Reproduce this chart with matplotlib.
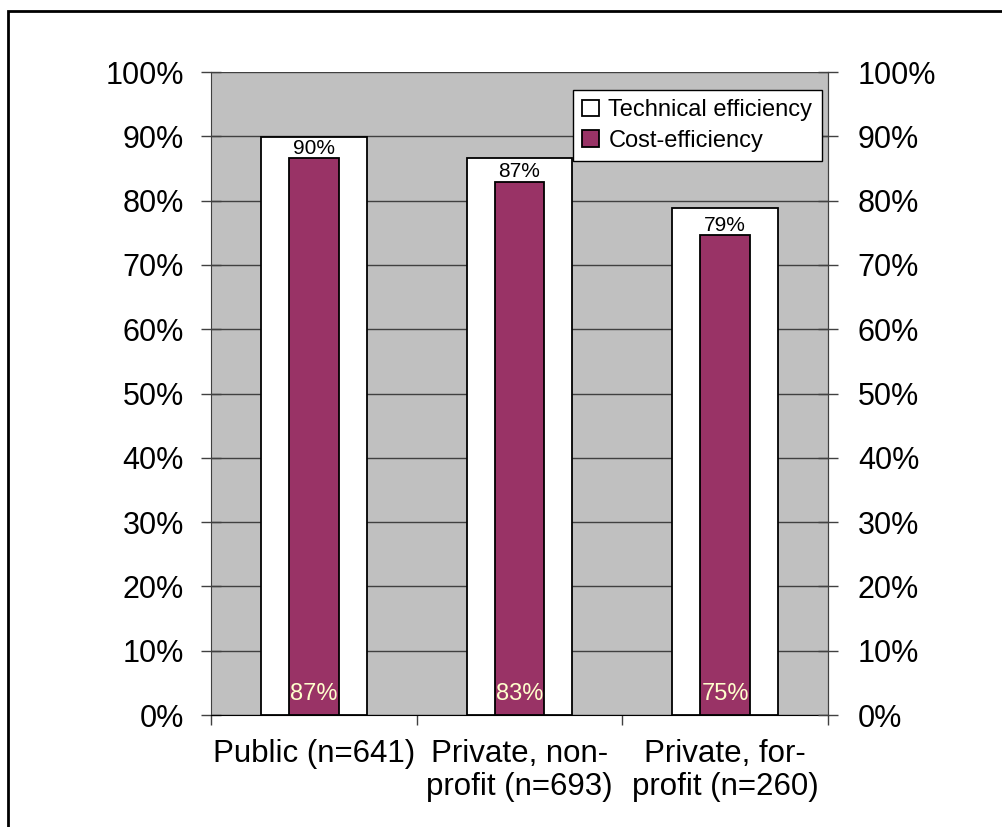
import matplotlib
matplotlib.use("Agg")
import matplotlib.pyplot as plt
import numpy as np
from matplotlib.patches import Rectangle

categories = ["Public (n=641)", "Private, non-\nprofit (n=693)", "Private, for-\nprofit (n=260)"]
technical = [0.899, 0.866, 0.789]
cost = [0.866, 0.829, 0.746]
series_names = ["Technical efficiency", "Cost-efficiency"]

plt.rcParams['font.family'] = ['Liberation Sans', 'DejaVu Sans']

fig = plt.figure(figsize=(10.03, 8.27), dpi=100)
ax = fig.add_axes([0.2104, 0.1354, 0.6151, 0.7775])
ax.set_facecolor('#C0C0C0')

x = np.arange(len(categories))
b1 = ax.bar(x, technical, width=0.515, color='white', edgecolor='black', linewidth=1.3,
            label=series_names[0], zorder=3)
b2 = ax.bar(x, cost, width=0.24, color='#993366', edgecolor='black', linewidth=1.3,
            label=series_names[1], zorder=4)

for xi, t, c in zip(x, technical, cost):
    ax.text(xi, c + 0.001, f"{round(t*100):.0f}%", ha='center', va='bottom', fontsize=15,
            color='black', zorder=6)
    ax.text(xi, 0.016, f"{round(c*100):.0f}%", ha='center', va='bottom', fontsize=17,
            color='#FFFFCC', zorder=6)

ax.set_xlim(-0.5, 2.5)
ax.set_ylim(0, 1.0)
yt = np.arange(0, 1.01, 0.1)
ax.set_yticks(yt)
ax.set_yticklabels([f"{int(round(v*100))}%" for v in yt], fontsize=22)
ax.yaxis.grid(True, color='#404040', linewidth=1.0, zorder=1)
ax.set_axisbelow(True)
ax.tick_params(axis='y', direction='inout', length=15, width=1.0, color='#404040', pad=12)

ax.set_xticks([-0.5, 0.5, 1.5, 2.5])
ax.set_xticklabels([])
ax.set_xticks(x, minor=True)
ax.set_xticklabels(categories, minor=True, fontsize=22.5, linespacing=1.15)
ax.tick_params(axis='x', which='major', direction='out', length=7, width=1.0, color='#404040')
ax.tick_params(axis='x', which='minor', length=0, pad=17)

for s in ['left', 'right']:
    ax.spines[s].set_color('#404040')
ax.spines['top'].set_visible(False)
ax.spines['bottom'].set_color('black')

ax2 = ax.twinx()
ax2.set_ylim(0, 1.0)
ax2.set_yticks(yt)
ax2.set_yticklabels([f"{int(round(v*100))}%" for v in yt], fontsize=22)
ax2.tick_params(axis='y', direction='inout', length=15, width=1.0, color='#404040', pad=14)
for s in ['top', 'left', 'bottom']:
    ax2.spines[s].set_visible(False)
ax2.spines['right'].set_color('#404040')

leg = ax2.legend(handles=[b1, b2], labels=series_names, loc='upper right',
                 bbox_to_anchor=(0.99, 0.972), fontsize=17, frameon=True, fancybox=False,
                 framealpha=1.0, handlelength=0.7, handleheight=0.7, handletextpad=0.4,
                 borderpad=0.4, labelspacing=0.35, borderaxespad=0)
leg.get_frame().set_edgecolor('black')
leg.get_frame().set_facecolor('white')
leg.get_frame().set_linewidth(1.0)
leg.set_zorder(10)

fig.patches.append(Rectangle((8/1003, -0.1), 1.2, 1 - 11/827 + 0.1, transform=fig.transFigure,
                             fill=False, edgecolor='black', linewidth=2.0, zorder=20))

fig.savefig("out.png", dpi=100)
